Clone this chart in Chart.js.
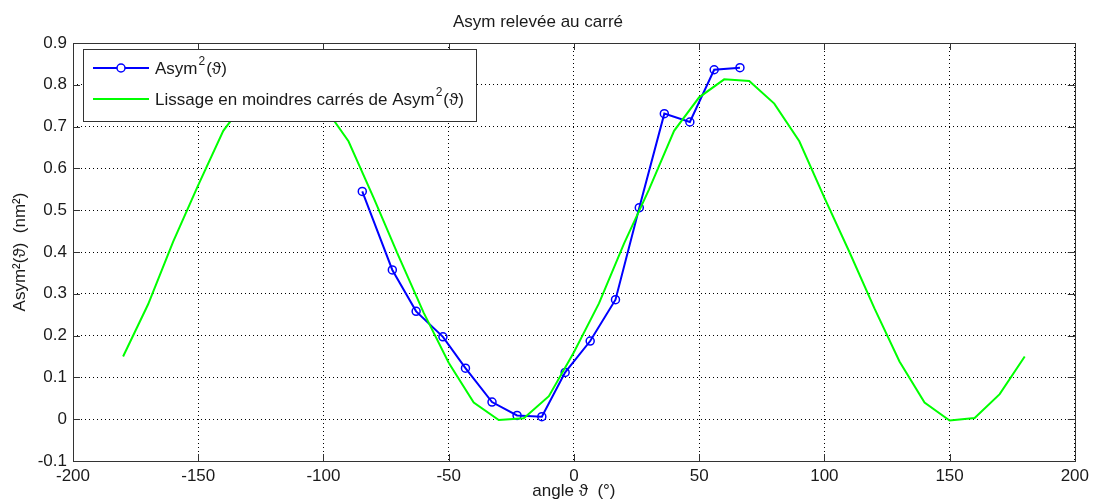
<!DOCTYPE html>
<html>
<head>
<meta charset="utf-8">
<script src="https://cdn.jsdelivr.net/npm/chart.js@4.4.0/dist/chart.umd.min.js"></script>
<style>
html,body{margin:0;padding:0;background:#fff;}
#wrap{position:relative;width:1094px;height:503px;}
</style>
</head>
<body>
<div id="wrap"><canvas id="c" width="1094" height="503"></canvas></div>
<script>
// ---- data ----
const asymAngles = [-84.5, -72.5, -63, -52.3, -43.3, -32.7, -22.7, -12.8, -3.5, 6.5, 16.6, 26.1, 36.1, 46.3, 56, 66.3];
const asymValues = [0.545, 0.357, 0.258, 0.197, 0.122, 0.041, 0.009, 0.006, 0.112, 0.187, 0.286, 0.506, 0.731, 0.711, 0.836, 0.841];

const fitAngles = [-180, -170, -160, -150, -140, -130, -120, -110, -100, -90, -80, -70, -60, -50, -40, -30, -20, -10,
                   0, 10, 20, 30, 40, 50, 60, 70, 80, 90, 100, 110, 120, 130, 140, 150, 160, 170, 180];
const fitValues = [0.150, 0.275, 0.425, 0.560, 0.690, 0.770, 0.810, 0.810, 0.750, 0.665, 0.530, 0.390, 0.255, 0.135, 0.040, -0.002, 0.002, 0.055,
                   0.160, 0.277, 0.420, 0.550, 0.690, 0.770, 0.813, 0.809, 0.755, 0.665, 0.530, 0.400, 0.265, 0.138, 0.040, -0.003, 0.003, 0.060, 0.150];

const xTicks = [-200, -150, -100, -50, 0, 50, 100, 150, 200];
const yTicks = [-0.1, 0, 0.1, 0.2, 0.3, 0.4, 0.5, 0.6, 0.7, 0.8, 0.9];

const titleText = 'Asym relevée au carré';
const xTitle = 'angle \u03D1  (°)';
const yTitle = 'Asym²(\u03D1)  (nm²)';
const seriesLabels = [['Asym', '2', '(\u03D1)'], ['Lissage en moindres carrés de Asym', '2', '(\u03D1)']];

const FONT = '"Liberation Sans", Arial, sans-serif';
const TXT = '#1a1a1a';

const frameAndLegend = {
  id: 'frameAndLegend',
  afterDraw(chart) {
    const {ctx, chartArea: a, scales} = chart;
    ctx.save();
    // frame
    ctx.strokeStyle = '#333';
    ctx.lineWidth = 1;
    ctx.setLineDash([]);
    ctx.strokeRect(Math.round(a.left) + 0.5, Math.round(a.top) + 0.5, Math.round(a.right - a.left), Math.round(a.bottom - a.top));
    // inward tick marks
    const tl = 7;
    ctx.beginPath();
    xTicks.forEach(v => {
      const px = Math.round(scales.x.getPixelForValue(v)) + 0.5;
      ctx.moveTo(px, a.bottom); ctx.lineTo(px, a.bottom - tl);
      ctx.moveTo(px, a.top); ctx.lineTo(px, a.top + tl);
    });
    yTicks.forEach(v => {
      const py = Math.round(scales.y.getPixelForValue(v)) + 0.5;
      ctx.moveTo(a.left, py); ctx.lineTo(a.left + tl, py);
      ctx.moveTo(a.right, py); ctx.lineTo(a.right - tl, py);
    });
    ctx.stroke();

    // legend box
    const lx = a.left + 10, ly = a.top + 6, lw = 393, lh = 72;
    ctx.fillStyle = '#fff';
    ctx.fillRect(lx, ly, lw, lh);
    ctx.strokeStyle = '#333';
    ctx.strokeRect(Math.round(lx) + 0.5, Math.round(ly) + 0.5, lw, lh);
    const ds = chart.data.datasets;
    const rows = [ly + 19, ly + 50];
    [0, 1].forEach(i => {
      const d = ds[i];
      const y = rows[i];
      ctx.strokeStyle = d.borderColor;
      ctx.lineWidth = 2;
      ctx.beginPath();
      ctx.moveTo(lx + 10, y); ctx.lineTo(lx + 66, y);
      ctx.stroke();
      if (d.pointRadius > 0) {
        ctx.beginPath();
        ctx.arc(lx + 38, y, 4, 0, Math.PI * 2);
        ctx.fillStyle = '#fff';
        ctx.fill();
        ctx.lineWidth = 1.5;
        ctx.stroke();
      }
      const parts = seriesLabels[i];
      let tx = lx + 72;
      ctx.fillStyle = TXT;
      ctx.textBaseline = 'middle';
      ctx.textAlign = 'left';
      ctx.font = '17px ' + FONT;
      ctx.fillText(parts[0], tx, y + 1);
      tx += ctx.measureText(parts[0]).width + 1;
      ctx.font = '12px ' + FONT;
      ctx.fillText(parts[1], tx, y - 6);
      tx += ctx.measureText(parts[1]).width + 1;
      ctx.font = '17px ' + FONT;
      ctx.fillText(parts[2], tx, y + 1);
    });
    ctx.restore();
  }
};

new Chart(document.getElementById('c'), {
  type: 'line',
  data: {
    datasets: [
      {
        label: 'Asym²(\u03D1)',
        data: asymAngles.map((a, i) => ({x: a, y: asymValues[i]})),
        borderColor: '#0000ff',
        backgroundColor: '#0000ff',
        borderWidth: 2,
        pointRadius: 4,
        pointBorderWidth: 1.5,
        pointBackgroundColor: 'rgba(0,0,0,0)',
        pointBorderColor: '#0000ff',
        tension: 0,
        fill: false,
        order: 1
      },
      {
        label: 'Lissage en moindres carrés de Asym²(\u03D1)',
        data: fitAngles.map((a, i) => ({x: a, y: fitValues[i]})),
        borderColor: '#00ff00',
        backgroundColor: '#00ff00',
        borderWidth: 2,
        pointRadius: 0,
        tension: 0,
        fill: false,
        order: 0
      }
    ]
  },
  options: {
    responsive: false,
    animation: false,
    events: [],
    layout: {padding: {top: 0, right: 18, left: 0, bottom: 0}},
    plugins: {
      legend: {display: false},
      tooltip: {enabled: false},
      title: {
        display: true,
        text: titleText,
        color: TXT,
        font: {family: FONT, size: 17, weight: 'normal'},
        padding: {top: 12, bottom: 10.6}
      }
    },
    scales: {
      x: {
        type: 'linear',
        min: -200, max: 200,
        afterBuildTicks: s => { s.ticks = xTicks.map(v => ({value: v})); },
        afterFit: s => { s.height = 42; },
        grid: {color: '#000', lineWidth: 1, drawTicks: false},
        border: {display: false, dash: [1, 3]},
        ticks: {color: TXT, font: {family: FONT, size: 17}, padding: 5, maxRotation: 0, autoSkip: false},
        title: {display: true, text: xTitle, color: TXT, font: {family: FONT, size: 17}, padding: {top: 0, bottom: 1}}
      },
      y: {
        type: 'linear',
        min: -0.1, max: 0.9,
        afterBuildTicks: s => { s.ticks = yTicks.map(v => ({value: v})); },
        afterFit: s => { s.width = 73; },
        grid: {color: '#000', lineWidth: 1, drawTicks: false},
        border: {display: false, dash: [1, 3]},
        ticks: {
          color: TXT, font: {family: FONT, size: 17}, padding: 6, autoSkip: false,
          callback: v => (Math.round(v * 10) / 10).toString()
        },
        title: {display: true, text: yTitle, color: TXT, font: {family: FONT, size: 17}, padding: {top: 10, bottom: 0}}
      }
    }
  },
  plugins: [frameAndLegend]
});
</script>
</body>
</html>
